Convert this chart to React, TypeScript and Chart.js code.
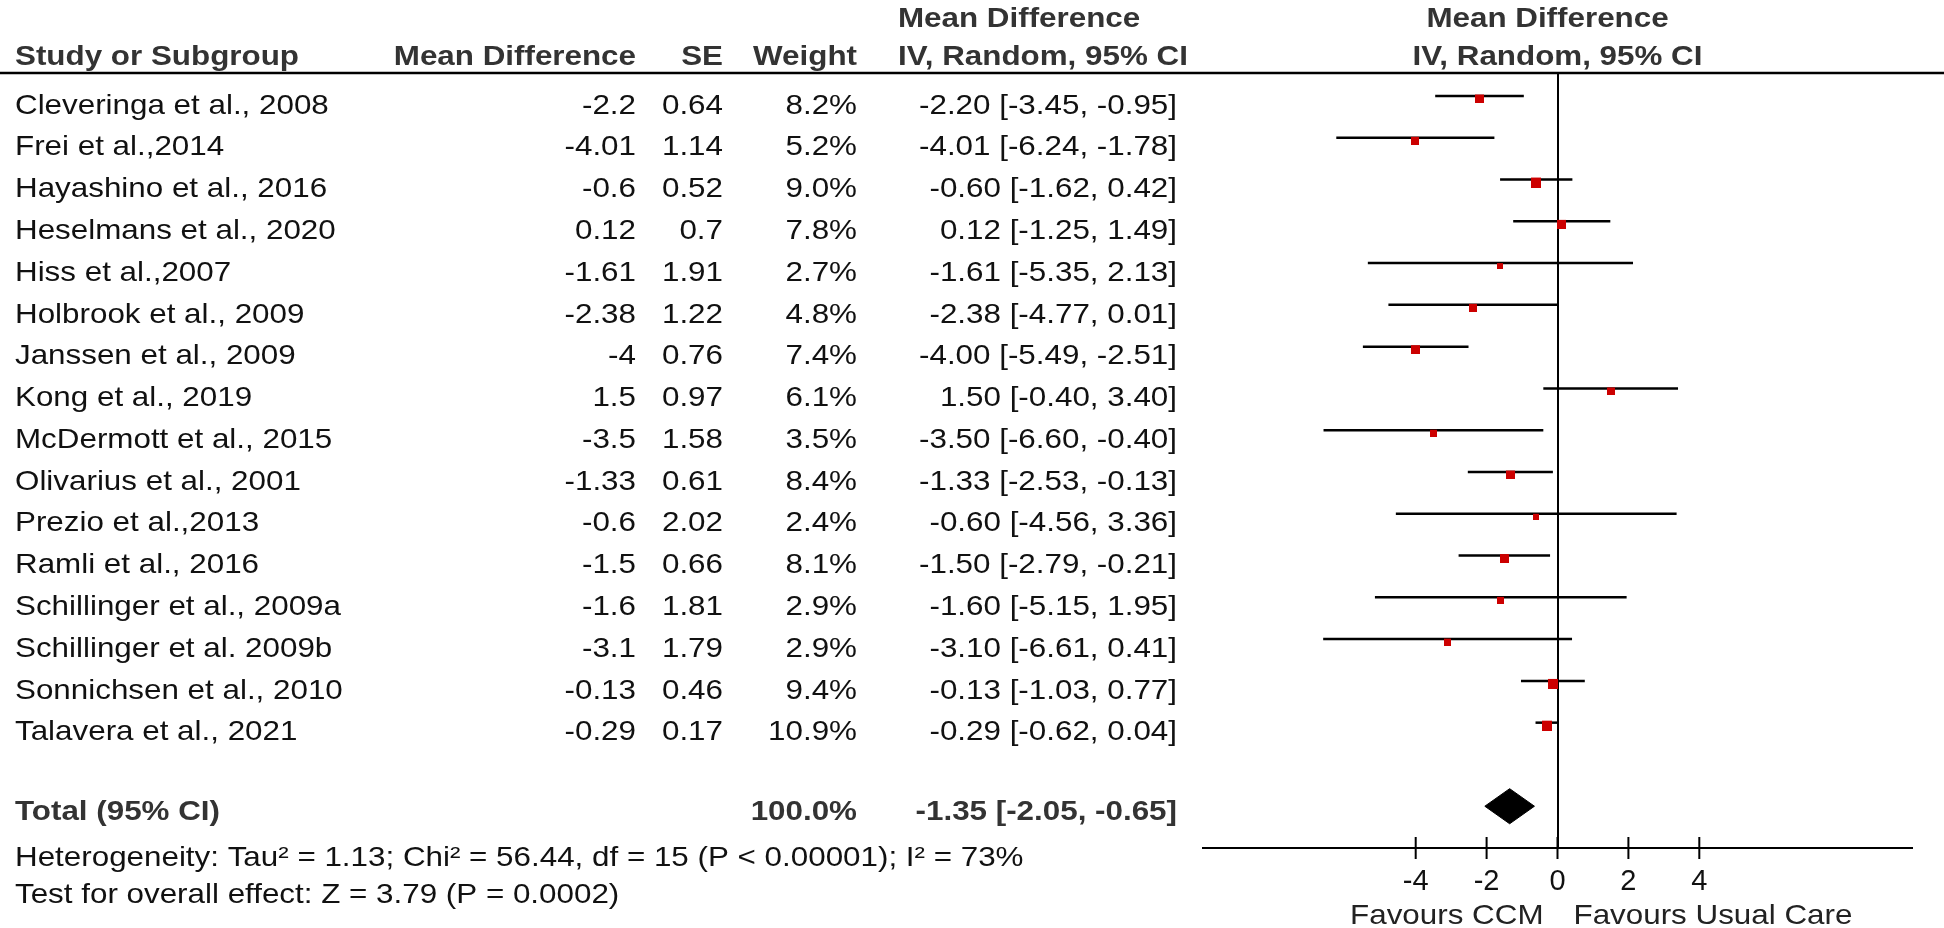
import React, { useEffect, useRef } from 'react';
import { Chart, registerables } from 'chart.js';

Chart.register(...registerables);

// ---------------- data ----------------
const STUDIES = [
  'Cleveringa et al., 2008',
  'Frei et al.,2014',
  'Hayashino et al., 2016',
  'Heselmans et al., 2020',
  'Hiss et al.,2007',
  'Holbrook et al., 2009',
  'Janssen et al., 2009',
  'Kong et al., 2019',
  'McDermott et al., 2015',
  'Olivarius et al., 2001',
  'Prezio et al.,2013',
  'Ramli et al., 2016',
  'Schillinger et al., 2009a',
  'Schillinger et al. 2009b',
  'Sonnichsen et al., 2010',
  'Talavera et al., 2021',
];
const MEAN_DIFF = [-2.2, -4.01, -0.6, 0.12, -1.61, -2.38, -4, 1.5, -3.5, -1.33, -0.6, -1.5, -1.6, -3.1, -0.13, -0.29];
const SE = [0.64, 1.14, 0.52, 0.7, 1.91, 1.22, 0.76, 0.97, 1.58, 0.61, 2.02, 0.66, 1.81, 1.79, 0.46, 0.17];
const WEIGHT = [8.2, 5.2, 9.0, 7.8, 2.7, 4.8, 7.4, 6.1, 3.5, 8.4, 2.4, 8.1, 2.9, 2.9, 9.4, 10.9];
const CI_LOW = [-3.45, -6.24, -1.62, -1.25, -5.35, -4.77, -5.49, -0.4, -6.6, -2.53, -4.56, -2.79, -5.15, -6.61, -1.03, -0.62];
const CI_HIGH = [-0.95, -1.78, 0.42, 1.49, 2.13, 0.01, -2.51, 3.4, -0.4, -0.13, 3.36, -0.21, 1.95, 0.41, 0.77, 0.04];

const TOTAL_LABEL = 'Total (95% CI)';
const TOTAL_WEIGHT = 100.0;
const TOTAL_MD = -1.35;
const TOTAL_LOW = -2.05;
const TOTAL_HIGH = -0.65;

const X_TICKS = [-4, -2, 0, 2, 4];
const X_MIN = -10;
const X_MAX = 10;

const HEADERS = ['Study or Subgroup', 'Mean Difference', 'SE', 'Weight', 'Mean Difference', 'IV, Random, 95% CI'];
const HETEROGENEITY = 'Heterogeneity: Tau\u00B2 = 1.13; Chi\u00B2 = 56.44, df = 15 (P < 0.00001); I\u00B2 = 73%';
const OVERALL = 'Test for overall effect: Z = 3.79 (P = 0.0002)';
const LEFT_FAVOURS = 'Favours CCM';
const RIGHT_FAVOURS = 'Favours Usual Care';

// ---------------- styles ----------------
const W = 1944;
const H = 928;
const FONT_FAMILY = '"Liberation Sans", Arial, sans-serif';
const FONT_SIZE = 28;
const SX = 1.12;
const SQUARE_COLOR = '#cc0000';
const TOTAL_ROW = STUDIES.length + 1;

const fmt2 = (v: number) => v.toFixed(2);

function drawText(
  ctx: CanvasRenderingContext2D,
  s: string,
  x: number,
  y: number,
  align: CanvasTextAlign,
  bold = false,
  color = '#111'
) {
  ctx.save();
  ctx.font = `${bold ? 'bold ' : ''}${FONT_SIZE}px ${FONT_FAMILY}`;
  ctx.fillStyle = color;
  ctx.textAlign = align;
  ctx.textBaseline = 'middle';
  ctx.translate(x, y + 3);
  ctx.scale(SX, 1);
  ctx.fillText(s, 0, 0);
  ctx.restore();
}

// square marker drawn slightly below its point, as in the reference
function squareMarker(side: number, drop: number) {
  const s = Math.max(2, Math.round(side));
  const c = document.createElement('canvas');
  c.width = s;
  c.height = s + 2 * drop;
  const cx = c.getContext('2d')!;
  cx.fillStyle = SQUARE_COLOR;
  cx.fillRect(0, 2 * drop, s, s);
  return c;
}

const tablePlugin = {
  id: 'forestTable',
  afterDraw(chart: any) {
    const ctx: CanvasRenderingContext2D = chart.ctx;
    const xs = chart.scales.x;
    const ys = chart.scales.y;
    const area = chart.chartArea;
    const zero = xs.getPixelForValue(0);

    // header rule
    ctx.save();
    ctx.strokeStyle = '#000';
    ctx.lineWidth = 2.5;
    ctx.beginPath();
    ctx.moveTo(0, area.top);
    ctx.lineTo(W, area.top);
    ctx.stroke();

    // tick marks crossing the axis
    ctx.lineWidth = 2;
    X_TICKS.forEach((v) => {
      const px = xs.getPixelForValue(v);
      ctx.beginPath();
      ctx.moveTo(px, area.bottom - 11);
      ctx.lineTo(px, area.bottom + 11);
      ctx.stroke();
    });
    ctx.restore();

    const colStudy = 15;
    const colMD = 636;
    const colSE = 723;
    const colW = 857;
    const colCI = 1177;
    const colCIHead = 898;
    const hdr1 = 16;
    const hdr2 = 54;
    const hc = '#333';

    drawText(ctx, HEADERS[4], colCIHead, hdr1, 'left', true, hc);
    drawText(ctx, HEADERS[4], zero - 10, hdr1, 'center', true, hc);
    drawText(ctx, HEADERS[0], colStudy, hdr2, 'left', true, hc);
    drawText(ctx, HEADERS[1], colMD, hdr2, 'right', true, hc);
    drawText(ctx, HEADERS[2], colSE, hdr2, 'right', true, hc);
    drawText(ctx, HEADERS[3], colW, hdr2, 'right', true, hc);
    drawText(ctx, HEADERS[5], colCIHead, hdr2, 'left', true, hc);
    drawText(ctx, HEADERS[5], zero, hdr2, 'center', true, hc);

    STUDIES.forEach((name, i) => {
      const y = ys.getPixelForValue(i) + 7;
      drawText(ctx, name, colStudy, y, 'left');
      drawText(ctx, String(MEAN_DIFF[i]), colMD, y, 'right');
      drawText(ctx, String(SE[i]), colSE, y, 'right');
      drawText(ctx, WEIGHT[i].toFixed(1) + '%', colW, y, 'right');
      drawText(
        ctx,
        `${fmt2(MEAN_DIFF[i])} [${fmt2(CI_LOW[i])}, ${fmt2(CI_HIGH[i])}]`,
        colCI,
        y,
        'right'
      );
    });

    const ty = ys.getPixelForValue(TOTAL_ROW) + 3.5;
    drawText(ctx, TOTAL_LABEL, colStudy, ty, 'left', true, hc);
    drawText(ctx, TOTAL_WEIGHT.toFixed(1) + '%', colW, ty, 'right', true, hc);
    drawText(ctx, `${fmt2(TOTAL_MD)} [${fmt2(TOTAL_LOW)}, ${fmt2(TOTAL_HIGH)}]`, colCI, ty, 'right', true, hc);

    drawText(ctx, HETEROGENEITY, colStudy, ty + 46, 'left');
    drawText(ctx, OVERALL, colStudy, ty + 83, 'left');

    drawText(ctx, LEFT_FAVOURS, zero - 14, 913, 'right', false, '#222');
    drawText(ctx, RIGHT_FAVOURS, zero + 16, 913, 'left', false, '#222');
  },
};

export default function App() {
  const ref = useRef<HTMLCanvasElement | null>(null);

  useEffect(() => {
    if (!ref.current) return;

    const ciSets = STUDIES.map((_, i) => ({
      type: 'line' as const,
      data: [
        { x: CI_LOW[i], y: i },
        { x: CI_HIGH[i], y: i },
      ],
      borderColor: '#000',
      borderWidth: 2.5,
      pointRadius: 0,
      showLine: true,
      fill: false,
      order: 2,
    }));

    const squares = {
      type: 'scatter' as const,
      data: STUDIES.map((_, i) => ({ x: MEAN_DIFF[i], y: i })),
      pointStyle: WEIGHT.map((w) => squareMarker(2.4 * Math.sqrt(w) + 2.5, 3)),
      pointRadius: 5,
      backgroundColor: SQUARE_COLOR,
      borderWidth: 0,
      order: 1,
    };

    const dh = 0.42;
    const diamond = {
      type: 'line' as const,
      data: [
        { x: TOTAL_LOW, y: TOTAL_ROW },
        { x: TOTAL_MD, y: TOTAL_ROW - dh },
        { x: TOTAL_HIGH, y: TOTAL_ROW },
        { x: TOTAL_MD, y: TOTAL_ROW + dh },
        { x: TOTAL_LOW, y: TOTAL_ROW },
      ],
      borderColor: '#000',
      backgroundColor: '#000',
      borderWidth: 1,
      pointRadius: 0,
      showLine: true,
      fill: 'shape',
      tension: 0,
      order: 0,
    };

    const chart = new Chart(ref.current, {
      type: 'scatter',
      data: { datasets: [...ciSets, squares, diamond] as any },
      plugins: [tablePlugin],
      options: {
        animation: false,
        responsive: false,
        events: [],
        layout: { padding: { left: 1203, right: 32, top: 73, bottom: 0 } },
        plugins: { legend: { display: false }, tooltip: { enabled: false } },
        scales: {
          x: {
            type: 'linear',
            position: 'bottom',
            min: X_MIN,
            max: X_MAX,
            afterBuildTicks: (scale: any) => {
              scale.ticks = X_TICKS.map((v) => ({ value: v }));
            },
            afterFit: (scale: any) => {
              scale.height = 80;
            },
            grid: {
              drawTicks: false,
              drawOnChartArea: true,
              lineWidth: 2,
              color: (c: any) => (c.tick && c.tick.value === 0 ? '#000' : 'rgba(0,0,0,0)'),
            },
            border: { display: true, color: '#000', width: 2 },
            ticks: {
              padding: 17,
              color: '#111',
              font: { family: FONT_FAMILY, size: 29 },
              callback: (v: any) => String(v),
            },
          },
          y: {
            type: 'linear',
            display: false,
            reverse: true,
            min: -0.55,
            max: 18,
          },
        },
      },
    });
    return () => chart.destroy();
  }, []);

  return (
    <div style={{ position: 'fixed', left: 0, top: 0, width: W, height: H, background: '#fff' }}>
      <canvas ref={ref} width={W} height={H} style={{ display: 'block' }} />
    </div>
  );
}
